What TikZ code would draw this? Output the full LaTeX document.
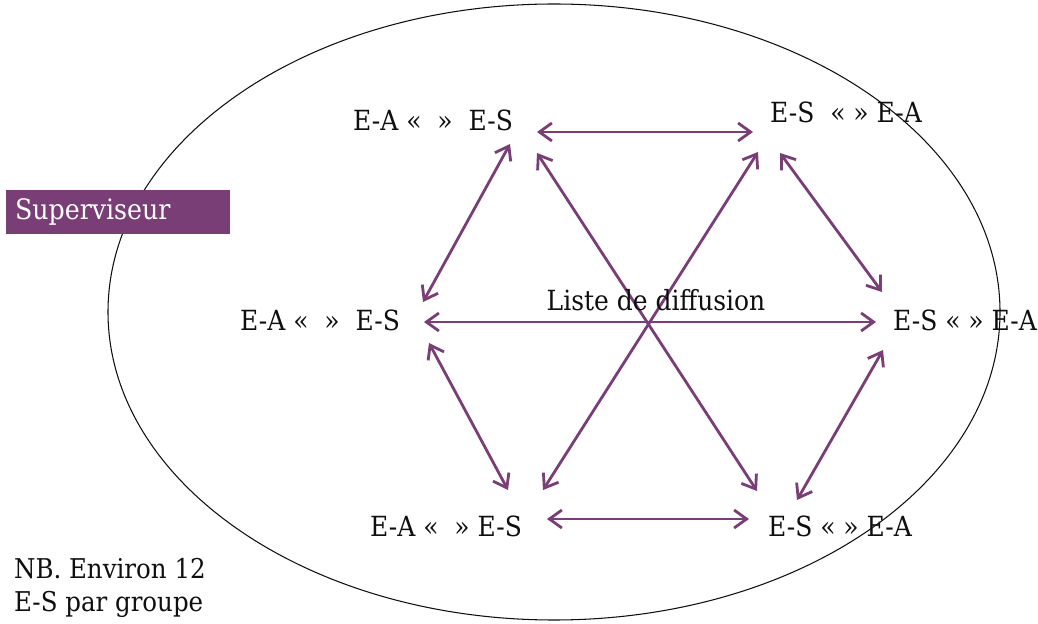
\documentclass[tikz,border=0pt]{standalone}
\usepackage{fontspec}
\setmainfont{DejaVu Serif Condensed}
\usetikzlibrary{arrows.meta,shapes.geometric}
\definecolor{Plum}{RGB}{121,62,118}
\definecolor{Ink}{RGB}{15,15,15}
\tikzset{
  peer/.style={text=Ink,font=\fontsize{15.8}{18}\selectfont,inner sep=1pt},
  hub/.style={text=Ink,font=\fontsize{15.8}{18}\selectfont,inner sep=1pt},
  note/.style={text=Ink,font=\fontsize{15.5}{19}\selectfont,align=left,inner sep=1pt},
  role/.style={fill=Plum,text=white,font=\fontsize{16}{18}\selectfont,minimum width=224*0.02cm,minimum height=44*0.02cm,text width=206*0.02cm,align=left},
  group/.style={ellipse,draw=Ink,line width=.6pt,minimum width=892*0.02cm,minimum height=616*0.02cm,inner sep=0pt},
  link/.style={{Straight Barb[length=2.5mm,width=3.6mm]}-{Straight Barb[length=2.5mm,width=3.6mm]},line width=1.6pt,draw=Plum}
}
\begin{document}
\begin{tikzpicture}[x=0.02cm,y=-0.02cm]
  \useasboundingbox (0,0) rectangle (1038,624);
  \node[group] (grp) at (554,312) {};
  \node[role] (sup) at (118,212) {Superviseur};
  % groupes E-A / E-S
  \node[peer] (tl) at (433,120) {E-A «\ \ »\ \ E-S};
  \node[peer] (tr) at (846,112) {E-S\ \ « » E-A};
  \node[peer] (ml) at (320,320) {E-A «\ \ »\ \ E-S};
  \node[peer] (mr) at (965,320) {E-S « » E-A};
  \node[peer] (bl) at (446,526) {E-A «\ \ » E-S};
  \node[peer] (br) at (840,526) {E-S « » E-A};
  % points d'attache
  \coordinate (tlE) at (537,132); \coordinate (trW) at (753,132);
  \coordinate (tlS) at (510,144); \coordinate (tlD) at (537,153);
  \coordinate (trD) at (758,152); \coordinate (trS) at (780,153);
  \coordinate (mlE) at (424,322); \coordinate (mrW) at (876,322);
  \coordinate (mlN) at (423,302); \coordinate (mlS) at (429,343);
  \coordinate (mrN) at (882,292); \coordinate (mrS) at (883,350);
  \coordinate (blN) at (508,490); \coordinate (blD) at (543,490);
  \coordinate (brD) at (757,491); \coordinate (brN) at (797,500);
  \coordinate (blE) at (547,519); \coordinate (brW) at (749,519);
  \draw[link] (tlE)--(trW);
  \draw[link] (mlE)--(mrW);
  \draw[link] (blE)--(brW);
  \draw[link] (tlS)--(mlN);
  \draw[link] (trS)--(mrN);
  \draw[link] (mlS)--(blN);
  \draw[link] (mrS)--(brN);
  \draw[link] (tlD)--(brD);
  \draw[link] (trD)--(blD);
  \node[hub] (list) at (656,300) {Liste de diffusion};
  \node[note,anchor=north west] (nb) at (12,556) {NB. Environ 12\\E-S par groupe};
\end{tikzpicture}
\end{document}
